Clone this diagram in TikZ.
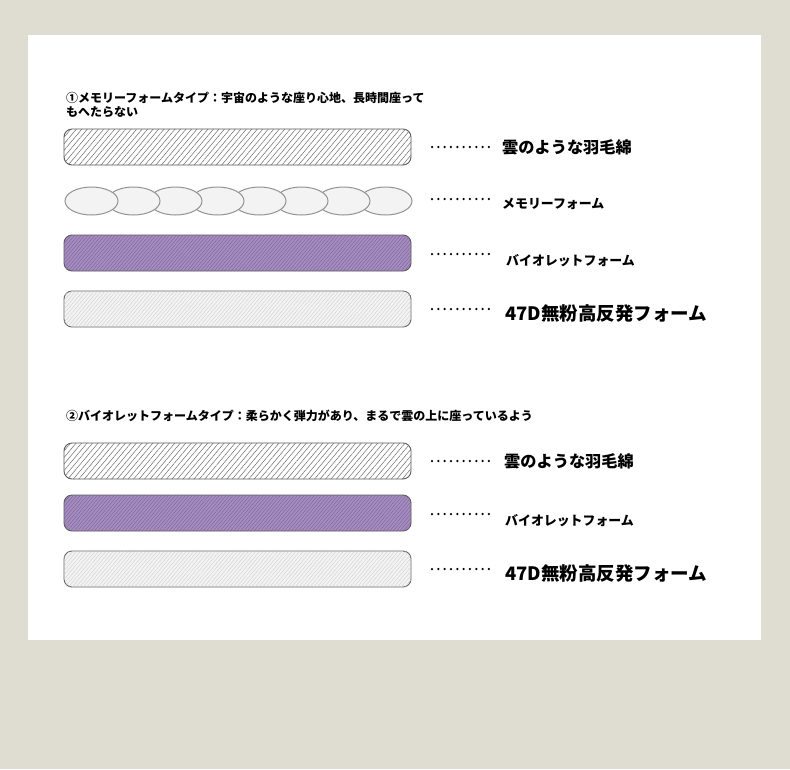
\documentclass[tikz,border=0pt]{standalone}
\usepackage{fontspec}
\newfontfamily\jp{Noto Sans CJK JP}
\usetikzlibrary{patterns.meta,shapes.geometric}
\definecolor{outerbg}{HTML}{DFDDD2}
\definecolor{purplefill}{HTML}{A68CC0}
\definecolor{purpleline}{HTML}{7D6698}
\definecolor{lightfill}{HTML}{F3F3F3}
\definecolor{lightline}{HTML}{CFCFCF}
\definecolor{borderc}{HTML}{5A5A5A}
\tikzset{
  barbox/.style={draw=borderc, line width=0.9pt, rounded corners=8pt, minimum width=347pt, minimum height=36pt, inner sep=0pt},
  feather/.style={barbox, fill=white, postaction={pattern={Lines[angle=50,distance=4.2pt,line width=0.5pt]}, pattern color=gray!85!black}},
  violet/.style={barbox, fill=purplefill, postaction={pattern={Lines[angle=50,distance=2.6pt,line width=0.45pt]}, pattern color=purpleline}},
  hifoam/.style={barbox, draw=gray!80!black, fill=lightfill, postaction={pattern={Lines[angle=50,distance=2.8pt,line width=0.4pt]}, pattern color=lightline}},
  memo/.style={ellipse, draw=gray!85, line width=1pt, fill=lightfill, minimum width=53pt, minimum height=28pt, inner sep=0pt},
  leader/.style={line width=2.5pt, line cap=round, dash pattern=on 0pt off 6.33pt, black},
  title/.style={anchor=west, align=left, font=\jp\bfseries\fontsize{12}{14}\selectfont, inner sep=0pt},
  labsmall/.style={anchor=west, font=\jp\bfseries\fontsize{12.9}{14}\selectfont, inner sep=0pt},
  labmid/.style={anchor=west, font=\jp\bfseries\fontsize{16.2}{18}\selectfont, inner sep=0pt},
  labbig/.style={anchor=west, font=\jp\bfseries\fontsize{18.5}{20}\selectfont, inner sep=0pt},
}
\begin{document}
\begin{tikzpicture}[x=1pt,y=-1pt]
\useasboundingbox (0,0) rectangle (790,769);
\fill[outerbg] (0,0) rectangle (790,769);
\fill[white] (28,35) rectangle (761,640);

% section 1
\node[title] (t1) at (66,105) {①メモリーフォームタイプ：宇宙のような座り心地、長時間座って\\もへたらない};
\node[feather] (b1) at (237.5,147) {};
\foreach \i in {7,6,...,0} {
  \node[memo] (m\i) at (91.5+42*\i,201) {};
}
\node[violet] (b3) at (237.5,253) {};
\node[hifoam] (b4) at (237.5,309) {};

\coordinate (d1) at (432,147);
\coordinate (d2) at (432,199);
\coordinate (d3) at (432,254);
\coordinate (d4) at (432,309);
\node[labmid] (l1) at (502,147) {雲のような羽毛綿};
\node[labsmall] (l2) at (502,204) {メモリーフォーム};
\node[labsmall] (l3) at (506,261) {バイオレットフォーム};
\node[labbig] (l4) at (505,313) {47D無粉高反発フォーム};
\foreach \k in {1,2,3,4} { \draw[leader] (d\k) -- ++(58,0); }

% section 2
\node[title] (t2) at (66,416) {②バイオレットフォームタイプ：柔らかく弾力があり、まるで雲の上に座っているよう};
\node[feather] (c1) at (237.5,461) {};
\node[violet] (c2) at (237.5,513) {};
\node[hifoam] (c3) at (237.5,569) {};

\coordinate (e1) at (432,461);
\coordinate (e2) at (432,514);
\coordinate (e3) at (432,569);
\node[labmid] (n1) at (504,461) {雲のような羽毛綿};
\node[labsmall] (n2) at (505,521) {バイオレットフォーム};
\node[labbig] (n3) at (505,573) {47D無粉高反発フォーム};
\foreach \k in {1,2,3} { \draw[leader] (e\k) -- ++(58,0); }
\end{tikzpicture}
\end{document}
